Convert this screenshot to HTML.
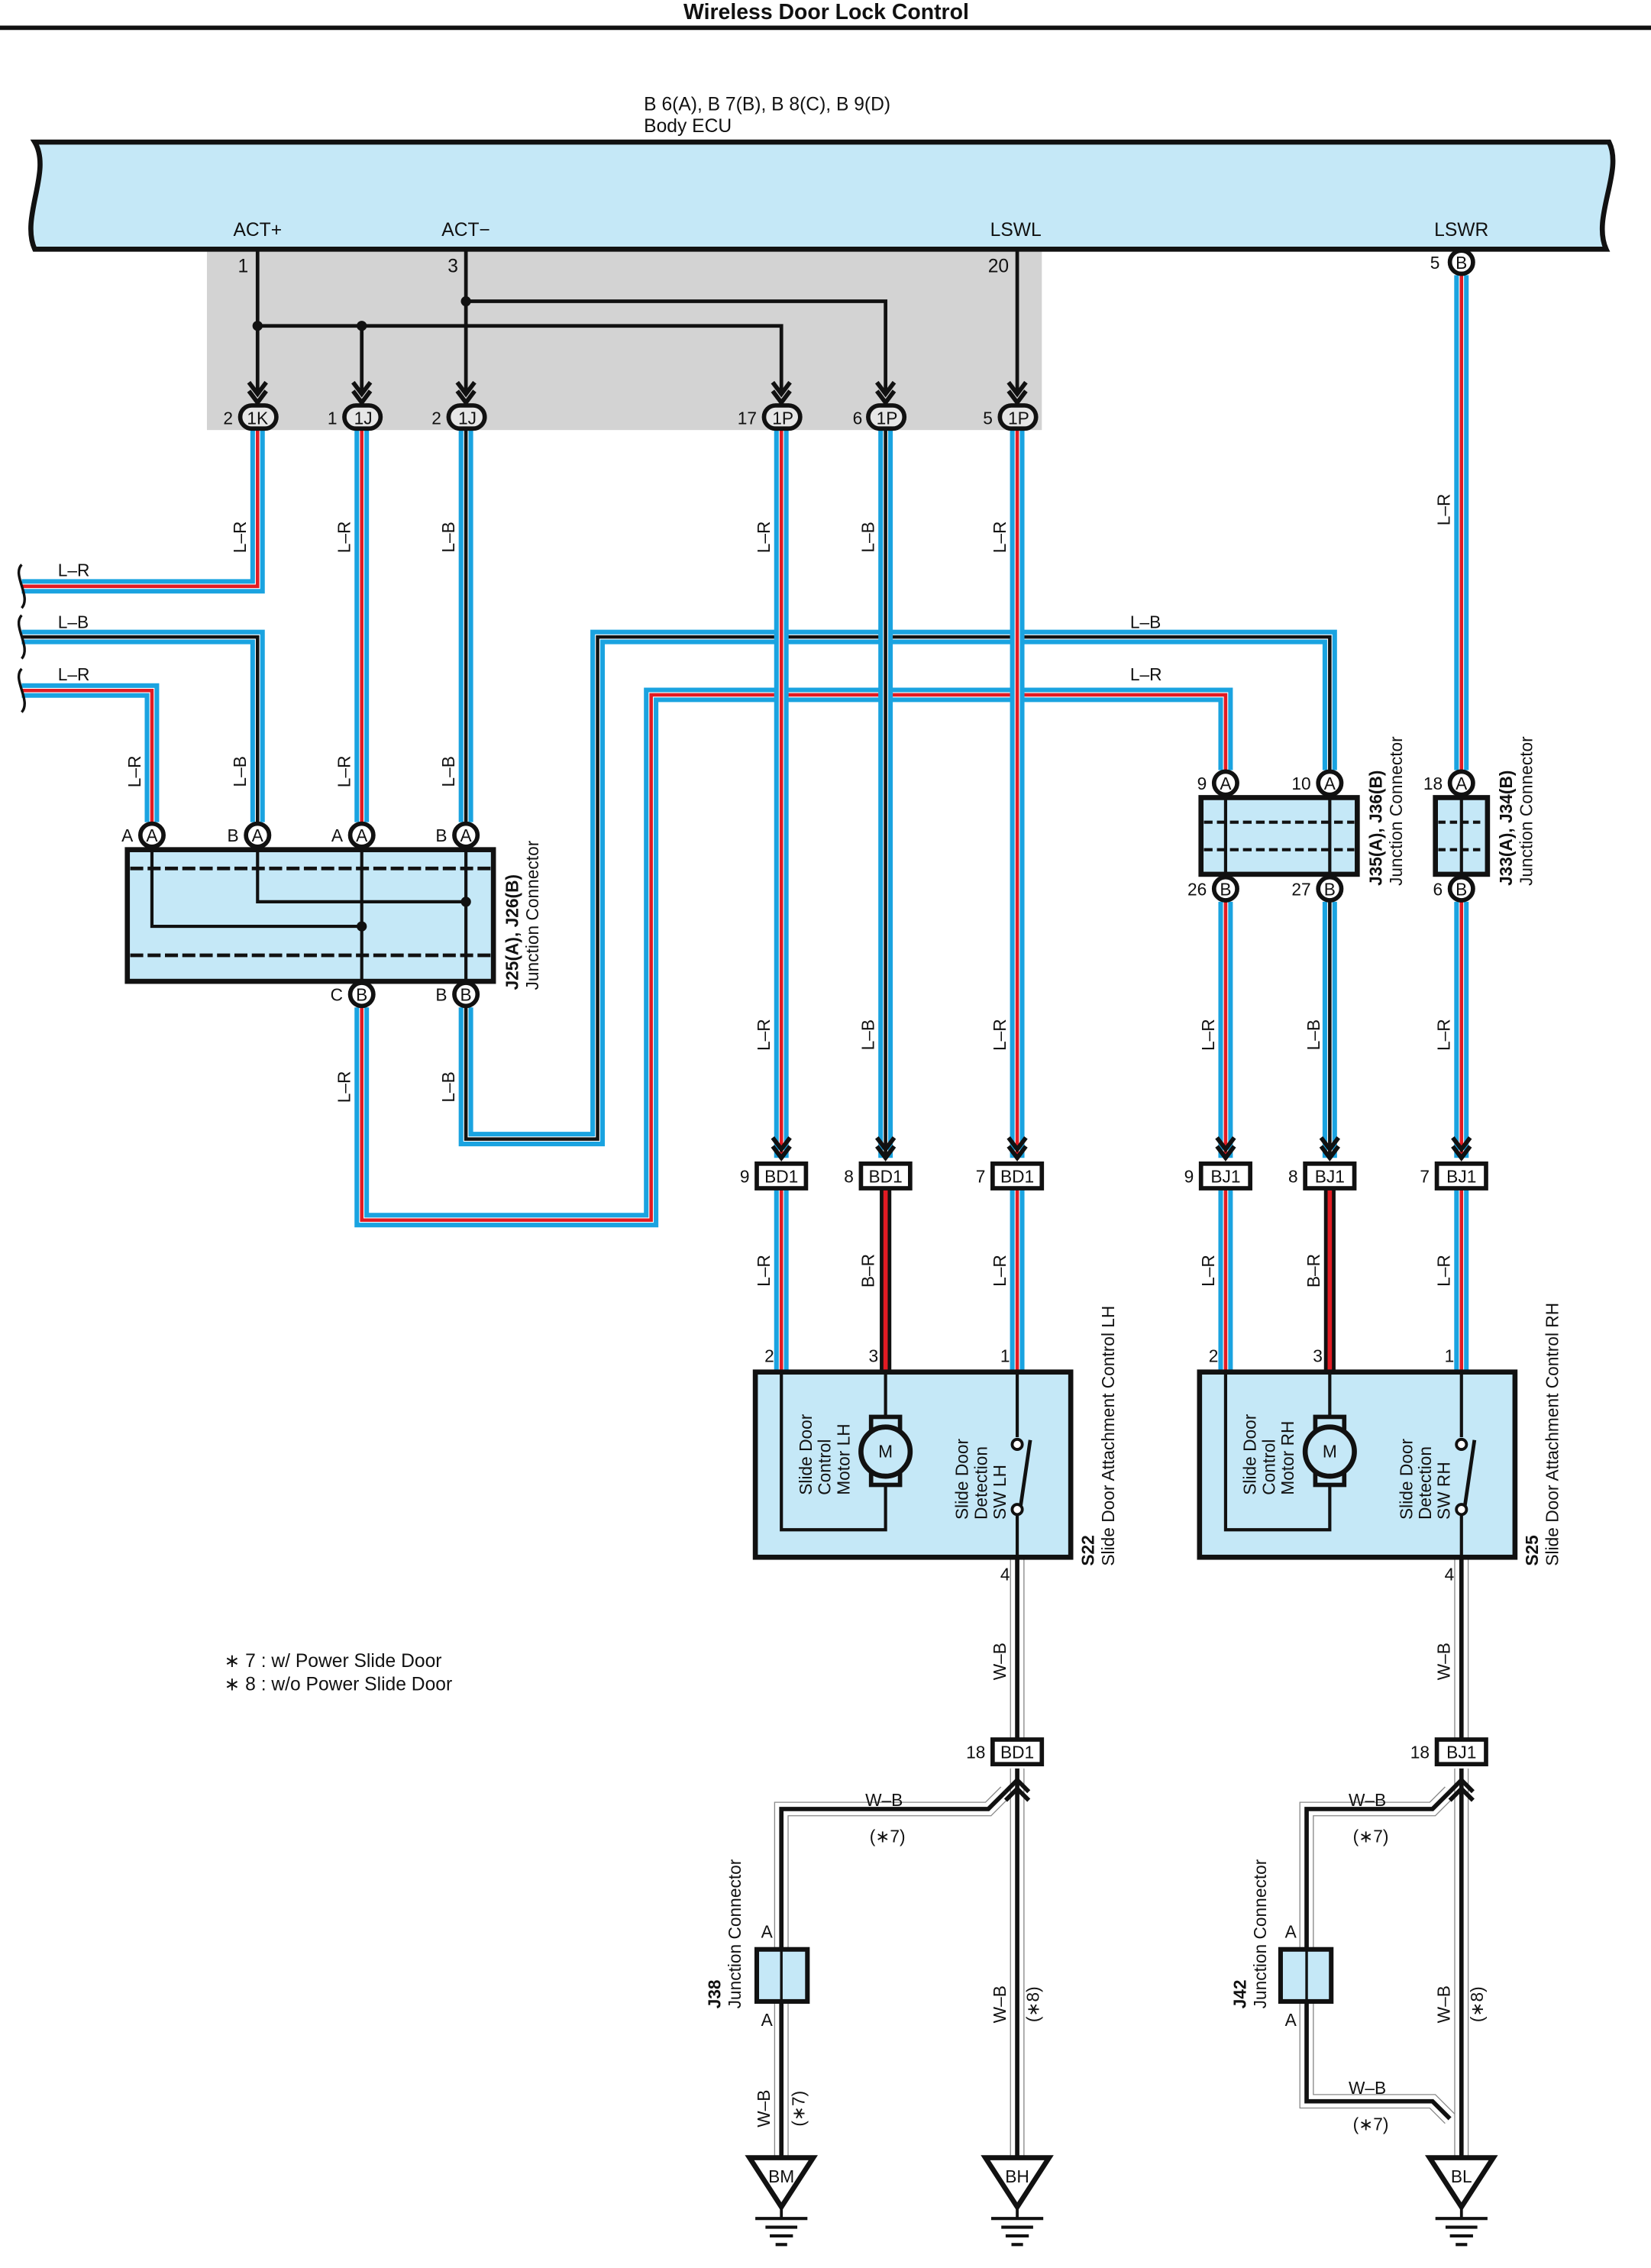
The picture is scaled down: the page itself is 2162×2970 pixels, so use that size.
<!DOCTYPE html>
<html><head><meta charset="utf-8"><style>
html,body{margin:0;padding:0;background:#fff}
svg{display:block}
text{font-family:"Liberation Sans",sans-serif;fill:#111}
.lo{stroke:#1aa3e0;stroke-width:10}
.lw{stroke:#fff;stroke-width:3.6}
.rc{stroke:#e21b23;stroke-width:2.4}
.bc{stroke:#111;stroke-width:2.4}
</style></head><body>
<svg width="2162" height="2970" viewBox="0 0 1141 1567" xmlns="http://www.w3.org/2000/svg">
<defs>
<path id="r1" d="M178,297 V405 H15"/>
<path id="r2" d="M15,477 H105 V568"/>
<path id="r3" d="M250,297 V568"/>
<path id="r4" d="M250,696 V843 H450 V480 H847 V532"/>
<path id="r5" d="M540,297 V800"/>
<path id="r6" d="M703,297 V800"/>
<path id="r7" d="M1010,190 V532"/>
<path id="r8" d="M847,623 V800"/>
<path id="r9" d="M1010,623 V800"/>
<path id="r10" d="M540,822 V948"/>
<path id="r11" d="M703,822 V948"/>
<path id="r12" d="M847,822 V948"/>
<path id="r13" d="M1010,822 V948"/>
<path id="b1" d="M15,440 H178 V568"/>
<path id="b2" d="M322,297 V568"/>
<path id="b3" d="M322,696 V787 H413 V440 H919 V532"/>
<path id="b4" d="M612,297 V800"/>
<path id="b5" d="M919,623 V800"/>
<path id="k1" d="M612,822 V948"/>
<path id="k2" d="M919,822 V948"/>
<path id="w1" d="M703,1076 V1202"/>
<path id="w2" d="M703,1222 V1490"/>
<path id="w3" d="M695,1238 L683,1250 H540 V1490"/>
<path id="w4" d="M1010,1076 V1202"/>
<path id="w5" d="M1010,1222 V1490"/>
<path id="w6" d="M1002,1238 L990,1250 H903 V1452 H990 L1002,1464"/>
</defs>

<text x="571" y="13" font-size="15" font-weight="bold" text-anchor="middle">Wireless Door Lock Control</text>
<line x1="0" y1="19" x2="1141" y2="19" stroke="#111" stroke-width="3"/>

<text x="445" y="76" font-size="13">B 6(A), B 7(B), B 8(C), B 9(D)</text>
<text x="445" y="91" font-size="13">Body ECU</text>
<rect x="143" y="172" width="577" height="125" fill="#d3d3d3"/>
<path d="M24,98 H1112 C1122,118 1100,150 1110,172 H24 C14,150 36,118 24,98 Z" fill="#c5e8f7" stroke="#111" stroke-width="3.5"/>
<text x="178" y="163" font-size="13" text-anchor="middle">ACT+</text>
<text x="322" y="163" font-size="13" text-anchor="middle">ACT−</text>
<text x="702" y="163" font-size="13" text-anchor="middle">LSWL</text>
<text x="1010" y="163" font-size="13" text-anchor="middle">LSWR</text>
<text x="168" y="188" font-size="13" text-anchor="middle">1</text>
<text x="313" y="188" font-size="13" text-anchor="middle">3</text>
<text x="690" y="188" font-size="13" text-anchor="middle">20</text>

<g stroke="#111" stroke-width="2.5" fill="none">
<path d="M178,173 V272"/>
<path d="M178,225 H540 V272"/>
<path d="M250,225 V272"/>
<path d="M322,173 V272"/>
<path d="M322,208 H612 V272"/>
<path d="M703,173 V272"/>
</g>
<g fill="#111"><circle cx="178" cy="225" r="3.5"/><circle cx="250" cy="225" r="3.5"/><circle cx="322" cy="208" r="3.5"/></g>

<!-- wires, drawn one by one so crossings overlap cleanly -->
<g fill="none" stroke-linejoin="miter">
<g><use href="#b3" class="lo"/><use href="#b3" class="lw"/><use href="#b3" class="bc"/></g>
<g><use href="#r4" class="lo"/><use href="#r4" class="lw"/><use href="#r4" class="rc"/></g>
<g><use href="#r1" class="lo"/><use href="#r1" class="lw"/><use href="#r1" class="rc"/></g>
<g><use href="#b1" class="lo"/><use href="#b1" class="lw"/><use href="#b1" class="bc"/></g>
<g><use href="#r2" class="lo"/><use href="#r2" class="lw"/><use href="#r2" class="rc"/></g>
<g><use href="#r3" class="lo"/><use href="#r3" class="lw"/><use href="#r3" class="rc"/></g>
<g><use href="#b2" class="lo"/><use href="#b2" class="lw"/><use href="#b2" class="bc"/></g>
<g><use href="#r5" class="lo"/><use href="#r5" class="lw"/><use href="#r5" class="rc"/></g>
<g><use href="#b4" class="lo"/><use href="#b4" class="lw"/><use href="#b4" class="bc"/></g>
<g><use href="#r6" class="lo"/><use href="#r6" class="lw"/><use href="#r6" class="rc"/></g>
<g><use href="#r7" class="lo"/><use href="#r7" class="lw"/><use href="#r7" class="rc"/></g>
<g><use href="#r8" class="lo"/><use href="#r8" class="lw"/><use href="#r8" class="rc"/></g>
<g><use href="#b5" class="lo"/><use href="#b5" class="lw"/><use href="#b5" class="bc"/></g>
<g><use href="#r9" class="lo"/><use href="#r9" class="lw"/><use href="#r9" class="rc"/></g>
<g><use href="#r10" class="lo"/><use href="#r10" class="lw"/><use href="#r10" class="rc"/></g>
<g><use href="#r11" class="lo"/><use href="#r11" class="lw"/><use href="#r11" class="rc"/></g>
<g><use href="#r12" class="lo"/><use href="#r12" class="lw"/><use href="#r12" class="rc"/></g>
<g><use href="#r13" class="lo"/><use href="#r13" class="lw"/><use href="#r13" class="rc"/></g>
<g stroke="#111" stroke-width="8"><use href="#k1"/><use href="#k2"/></g>
<g stroke="#e21b23" stroke-width="3"><use href="#k1"/><use href="#k2"/></g>
<g stroke="#888" stroke-width="10"><use href="#w1"/><use href="#w2"/><use href="#w3"/><use href="#w4"/><use href="#w5"/><use href="#w6"/></g>
<g stroke="#fff" stroke-width="8.6"><use href="#w1"/><use href="#w2"/><use href="#w3"/><use href="#w4"/><use href="#w5"/><use href="#w6"/></g>
<g stroke="#111" stroke-width="3"><use href="#w1"/><use href="#w2"/><use href="#w3"/><use href="#w4"/><use href="#w5"/><use href="#w6"/></g>
</g>

<g stroke="#111" stroke-width="3" fill="none">
<path d="M172,264 L178,272 L184,264 M172,270 L178,278 L184,270"/>
<path d="M244,264 L250,272 L256,264 M244,270 L250,278 L256,270"/>
<path d="M316,264 L322,272 L328,264 M316,270 L322,278 L328,270"/>
<path d="M534,264 L540,272 L546,264 M534,270 L540,278 L546,270"/>
<path d="M606,264 L612,272 L618,264 M606,270 L612,278 L618,270"/>
<path d="M697,264 L703,272 L709,264 M697,270 L703,278 L709,270"/>
</g>
<g stroke="#111" stroke-width="3" fill="#e6e6e6">
<rect x="166" y="280" width="25" height="16" rx="8"/>
<rect x="238" y="280" width="25" height="16" rx="8"/>
<rect x="310" y="280" width="25" height="16" rx="8"/>
<rect x="528" y="280" width="25" height="16" rx="8"/>
<rect x="600" y="280" width="25" height="16" rx="8"/>
<rect x="691" y="280" width="25" height="16" rx="8"/>
</g>
<g font-size="12" text-anchor="middle">
<text x="178" y="293">1K</text><text x="251" y="293">1J</text><text x="323" y="293">1J</text>
<text x="541" y="293">1P</text><text x="613" y="293">1P</text><text x="704" y="293">1P</text>
</g>
<g font-size="12" text-anchor="end">
<text x="161" y="293">2</text><text x="233" y="293">1</text><text x="305" y="293">2</text>
<text x="523" y="293">17</text><text x="596" y="293">6</text><text x="686" y="293">5</text>
</g>
<circle cx="1010" cy="181" r="8" fill="#fff" stroke="#111" stroke-width="3"/>
<text x="1010" y="185.5" font-size="12" text-anchor="middle">B</text>
<text x="995" y="185.5" font-size="12" text-anchor="end">5</text>

<g font-size="12" text-anchor="middle">
<text transform="translate(170,371) rotate(-90)">L–R</text>
<text transform="translate(242,371) rotate(-90)">L–R</text>
<text transform="translate(314,371) rotate(-90)">L–B</text>
<text transform="translate(532,371) rotate(-90)">L–R</text>
<text transform="translate(604,371) rotate(-90)">L–B</text>
<text transform="translate(695,371) rotate(-90)">L–R</text>
<text transform="translate(1002,352) rotate(-90)">L–R</text>
<text transform="translate(97,533) rotate(-90)">L–R</text>
<text transform="translate(170,533) rotate(-90)">L–B</text>
<text transform="translate(242,533) rotate(-90)">L–R</text>
<text transform="translate(314,533) rotate(-90)">L–B</text>
<text transform="translate(242,751) rotate(-90)">L–R</text>
<text transform="translate(314,751) rotate(-90)">L–B</text>
<text transform="translate(532,715) rotate(-90)">L–R</text>
<text transform="translate(604,715) rotate(-90)">L–B</text>
<text transform="translate(695,715) rotate(-90)">L–R</text>
<text transform="translate(839,715) rotate(-90)">L–R</text>
<text transform="translate(912,715) rotate(-90)">L–B</text>
<text transform="translate(1002,715) rotate(-90)">L–R</text>
<text transform="translate(532,878) rotate(-90)">L–R</text>
<text transform="translate(604,878) rotate(-90)">B–R</text>
<text transform="translate(695,878) rotate(-90)">L–R</text>
<text transform="translate(839,878) rotate(-90)">L–R</text>
<text transform="translate(912,878) rotate(-90)">B–R</text>
<text transform="translate(1002,878) rotate(-90)">L–R</text>
<text transform="translate(695,1148) rotate(-90)">W–B</text>
<text transform="translate(1002,1148) rotate(-90)">W–B</text>
<text transform="translate(695,1385) rotate(-90)">W–B</text>
<text transform="translate(1002,1385) rotate(-90)">W–B</text>
<text transform="translate(718,1385) rotate(-90)">(∗8)</text>
<text transform="translate(1025,1385) rotate(-90)">(∗8)</text>
<text transform="translate(532,1457) rotate(-90)">W–B</text>
<text transform="translate(556,1457) rotate(-90)">(∗7)</text>
</g>
<g font-size="12">
<text x="40" y="398">L–R</text>
<text x="40" y="434">L–B</text>
<text x="40" y="470">L–R</text>
<text x="781" y="434">L–B</text>
<text x="781" y="470">L–R</text>
<text x="598" y="1248">W–B</text>
<text x="601" y="1273">(∗7)</text>
<text x="932" y="1248">W–B</text>
<text x="935" y="1273">(∗7)</text>
<text x="932" y="1447">W–B</text>
<text x="935" y="1472">(∗7)</text>
</g>
<g stroke="#111" stroke-width="1.8" fill="none">
<path d="M15,390 C8,397 22,412 15,420"/>
<path d="M15,425 C8,432 22,447 15,455"/>
<path d="M15,462 C8,469 22,484 15,492"/>
</g>

<rect x="88" y="587" width="253" height="91" fill="#c5e8f7" stroke="#111" stroke-width="3.5"/>
<g stroke="#111" stroke-width="2.5" stroke-dasharray="9,3">
<line x1="90" y1="600" x2="339" y2="600"/><line x1="90" y1="660" x2="339" y2="660"/>
</g>
<g stroke="#111" stroke-width="2.2" fill="none">
<path d="M105,587 V640 H250"/>
<path d="M178,587 V623 H322"/>
<path d="M250,587 V678"/>
<path d="M322,587 V678"/>
</g>
<circle cx="250" cy="640" r="3.5" fill="#111"/><circle cx="322" cy="623" r="3.5" fill="#111"/>
<g fill="#fff" stroke="#111" stroke-width="3">
<circle cx="105" cy="577" r="8"/><circle cx="178" cy="577" r="8"/><circle cx="250" cy="577" r="8"/><circle cx="322" cy="577" r="8"/>
<circle cx="250" cy="687" r="8"/><circle cx="322" cy="687" r="8"/>
<circle cx="847" cy="541" r="8"/><circle cx="919" cy="541" r="8"/><circle cx="847" cy="614" r="8"/><circle cx="919" cy="614" r="8"/>
<circle cx="1010" cy="541" r="8"/><circle cx="1010" cy="614" r="8"/>
</g>
<g font-size="12" text-anchor="middle">
<text x="105" y="581.5">A</text><text x="178" y="581.5">A</text><text x="250" y="581.5">A</text><text x="322" y="581.5">A</text>
<text x="250" y="691.5">B</text><text x="322" y="691.5">B</text>
<text x="847" y="545.5">A</text><text x="919" y="545.5">A</text><text x="847" y="618.5">B</text><text x="919" y="618.5">B</text>
<text x="1010" y="545.5">A</text><text x="1010" y="618.5">B</text>
</g>
<g font-size="12" text-anchor="end">
<text x="92" y="581.5">A</text><text x="165" y="581.5">B</text><text x="237" y="581.5">A</text><text x="309" y="581.5">B</text>
<text x="237" y="691.5">C</text><text x="309" y="691.5">B</text>
<text x="834" y="545.5">9</text><text x="906" y="545.5">10</text><text x="834" y="618.5">26</text><text x="906" y="618.5">27</text>
<text x="997" y="545.5">18</text><text x="997" y="618.5">6</text>
</g>
<text transform="translate(358,684) rotate(-90)" font-size="12" font-weight="bold">J25(A), J26(B)</text>
<text transform="translate(372,684) rotate(-90)" font-size="12">Junction Connector</text>

<rect x="830" y="551" width="108" height="53" fill="#c5e8f7" stroke="#111" stroke-width="3.5"/>
<g stroke="#111" stroke-width="2.2" stroke-dasharray="6,3"><line x1="832" y1="568" x2="936" y2="568"/><line x1="832" y1="587" x2="936" y2="587"/></g>
<g stroke="#111" stroke-width="2.2"><line x1="847" y1="551" x2="847" y2="604"/><line x1="919" y1="551" x2="919" y2="604"/></g>
<text transform="translate(955,612) rotate(-90)" font-size="12" font-weight="bold">J35(A), J36(B)</text>
<text transform="translate(969,612) rotate(-90)" font-size="12">Junction Connector</text>
<rect x="992" y="551" width="36" height="53" fill="#c5e8f7" stroke="#111" stroke-width="3.5"/>
<g stroke="#111" stroke-width="2.2" stroke-dasharray="5,3"><line x1="994" y1="568" x2="1026" y2="568"/><line x1="994" y1="587" x2="1026" y2="587"/></g>
<line x1="1010" y1="551" x2="1010" y2="604" stroke="#111" stroke-width="2.2"/>
<text transform="translate(1045,612) rotate(-90)" font-size="12" font-weight="bold">J33(A), J34(B)</text>
<text transform="translate(1059,612) rotate(-90)" font-size="12">Junction Connector</text>

<g stroke="#111" stroke-width="3" fill="none">
<path d="M534,786 L540,794 L546,786 M534,792 L540,800 L546,792"/>
<path d="M606,786 L612,794 L618,786 M606,792 L612,800 L618,792"/>
<path d="M697,786 L703,794 L709,786 M697,792 L703,800 L709,792"/>
<path d="M841,786 L847,794 L853,786 M841,792 L847,800 L853,792"/>
<path d="M913,786 L919,794 L925,786 M913,792 L919,800 L925,792"/>
<path d="M1004,786 L1010,794 L1016,786 M1004,792 L1010,800 L1016,792"/>
<path d="M695,1238 L703,1230 L711,1238 M695,1244 L703,1236 L711,1244"/>
<path d="M1002,1238 L1010,1230 L1018,1238 M1002,1244 L1010,1236 L1018,1244"/>
</g>
<g stroke="#111" stroke-width="3" fill="#fff">
<rect x="523" y="804" width="34" height="17"/><rect x="595" y="804" width="34" height="17"/><rect x="686" y="804" width="34" height="17"/>
<rect x="830" y="804" width="34" height="17"/><rect x="902" y="804" width="34" height="17"/><rect x="993" y="804" width="34" height="17"/>
<rect x="686" y="1202" width="34" height="17"/><rect x="993" y="1202" width="34" height="17"/>
</g>
<g font-size="12" text-anchor="middle">
<text x="540" y="817">BD1</text><text x="612" y="817">BD1</text><text x="703" y="817">BD1</text>
<text x="847" y="817">BJ1</text><text x="919" y="817">BJ1</text><text x="1010" y="817">BJ1</text>
<text x="703" y="1215">BD1</text><text x="1010" y="1215">BJ1</text>
</g>
<g font-size="12" text-anchor="end">
<text x="518" y="817">9</text><text x="590" y="817">8</text><text x="681" y="817">7</text>
<text x="825" y="817">9</text><text x="897" y="817">8</text><text x="988" y="817">7</text>
<text x="681" y="1215">18</text><text x="988" y="1215">18</text>
</g>

<g id="sbox">
<rect x="522" y="948" width="218" height="128" fill="#c5e8f7" stroke="#111" stroke-width="3.5"/>
<g stroke="#111" stroke-width="2.2" fill="none">
<path d="M540,948 V1057 H612 V1020"/>
<path d="M612,948 V986"/>
<path d="M703,948 V993"/>
<path d="M703,1045 V1076"/>
<path d="M705,1043 L712,995" stroke-width="2.5"/>
</g>
<rect x="602" y="979" width="20" height="47" fill="#c5e8f7" stroke="#111" stroke-width="3"/>
<circle cx="612" cy="1003" r="17" fill="#c5e8f7" stroke="#111" stroke-width="3.5"/>
<circle cx="703" cy="998" r="3.5" fill="#fff" stroke="#111" stroke-width="2"/>
<circle cx="703" cy="1043" r="3.5" fill="#fff" stroke="#111" stroke-width="2"/>
</g>
<use href="#sbox" transform="translate(307,0)"/>
<g font-size="12" text-anchor="middle"><text x="612" y="1007">M</text><text x="919" y="1007">M</text></g>
<g font-size="12" text-anchor="end">
<text x="535" y="941">2</text><text x="607" y="941">3</text><text x="698" y="941">1</text>
<text x="842" y="941">2</text><text x="914" y="941">3</text><text x="1005" y="941">1</text>
<text x="698" y="1092">4</text><text x="1005" y="1092">4</text>
</g>
<g font-size="12">
<text transform="translate(561,1033) rotate(-90)">Slide Door</text>
<text transform="translate(574,1033) rotate(-90)">Control</text>
<text transform="translate(587,1033) rotate(-90)">Motor LH</text>
<text transform="translate(669,1050) rotate(-90)">Slide Door</text>
<text transform="translate(682,1050) rotate(-90)">Detection</text>
<text transform="translate(695,1050) rotate(-90)">SW LH</text>
<text transform="translate(868,1033) rotate(-90)">Slide Door</text>
<text transform="translate(881,1033) rotate(-90)">Control</text>
<text transform="translate(894,1033) rotate(-90)">Motor RH</text>
<text transform="translate(976,1050) rotate(-90)">Slide Door</text>
<text transform="translate(989,1050) rotate(-90)">Detection</text>
<text transform="translate(1002,1050) rotate(-90)">SW RH</text>
<text transform="translate(756,1082) rotate(-90)" font-weight="bold">S22</text>
<text transform="translate(770,1082) rotate(-90)">Slide Door Attachment Control LH</text>
<text transform="translate(1063,1082) rotate(-90)" font-weight="bold">S25</text>
<text transform="translate(1077,1082) rotate(-90)">Slide Door Attachment Control RH</text>
</g>

<text x="155" y="1152" font-size="13">∗ 7 : w/ Power Slide Door</text>
<text x="155" y="1168" font-size="13">∗ 8 : w/o Power Slide Door</text>

<rect x="523" y="1347" width="35" height="36" fill="#c5e8f7" stroke="#111" stroke-width="3.2"/>
<line x1="540" y1="1347" x2="540" y2="1383" stroke="#111" stroke-width="1.8"/>
<rect x="885" y="1347" width="35" height="36" fill="#c5e8f7" stroke="#111" stroke-width="3.2"/>
<line x1="903" y1="1347" x2="903" y2="1383" stroke="#111" stroke-width="1.8"/>
<g font-size="12" text-anchor="middle">
<text x="530" y="1339">A</text><text x="530" y="1400">A</text>
<text x="892" y="1339">A</text><text x="892" y="1400">A</text>
</g>
<text transform="translate(498,1388) rotate(-90)" font-size="12" font-weight="bold">J38</text>
<text transform="translate(512,1388) rotate(-90)" font-size="12">Junction Connector</text>
<text transform="translate(861,1388) rotate(-90)" font-size="12" font-weight="bold">J42</text>
<text transform="translate(875,1388) rotate(-90)" font-size="12">Junction Connector</text>

<g id="gnd" stroke="#111" fill="#fff">
<path d="M518,1491 H562 L540,1525 Z" stroke-width="3.5" stroke-linejoin="miter"/>
<line x1="540" y1="1525" x2="540" y2="1533" stroke-width="2"/>
<line x1="522" y1="1533" x2="558" y2="1533" stroke-width="2.2"/>
<line x1="529" y1="1539" x2="551" y2="1539" stroke-width="2.2"/>
<line x1="532" y1="1545" x2="548" y2="1545" stroke-width="2.2"/>
<line x1="536" y1="1551" x2="544" y2="1551" stroke-width="2.2"/>
</g>
<use href="#gnd" transform="translate(163,0)"/>
<use href="#gnd" transform="translate(470,0)"/>
<g font-size="12" text-anchor="middle">
<text x="540" y="1508">BM</text><text x="703" y="1508">BH</text><text x="1010" y="1508">BL</text>
</g>
</svg>
</body></html>
